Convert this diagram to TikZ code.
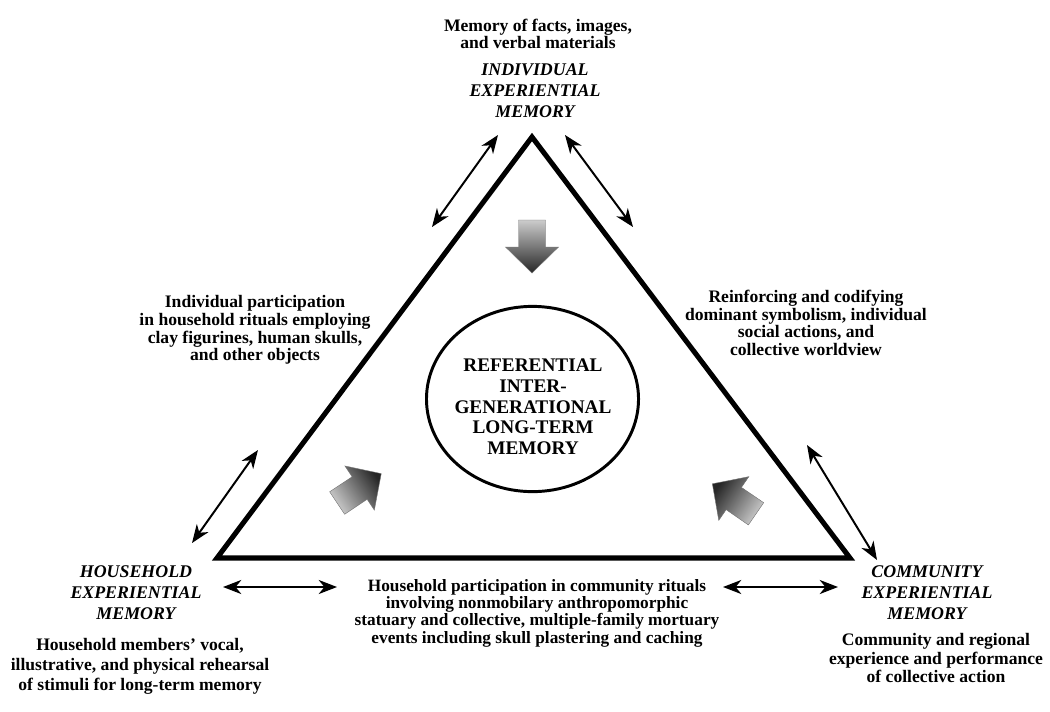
\documentclass[tikz,border=0pt]{standalone}
\usepackage{fontspec}
\setmainfont{Liberation Serif}
\usetikzlibrary{arrows.meta, shapes.geometric}

\begin{document}
\begin{tikzpicture}[x=0.025cm, y=-0.025cm,
		note/.style={font=\bfseries\fontsize{12.5}{12.6}\selectfont, align=center, inner sep=0pt},
		level/.style={font=\bfseries\itshape\fontsize{12.7}{15}\selectfont, align=center, inner sep=0pt},
		link/.style={{Stealth[length=13pt,width=10pt,inset=4pt]}-{Stealth[length=13pt,width=10pt,inset=4pt]}, line width=1.4pt},
		memarrow/.pic={\shade[top color=black!20, bottom color=black!85, shading angle=#1, draw=black!55, line width=0.3pt]
			(-26.5,-13.5) -- (0.5,-13.5) -- (0.5,-26.5) -- (26.5,0) -- (0.5,26.5) -- (0.5,13.5) -- (-26.5,13.5) -- cycle;}]
	\useasboundingbox (0,0) rectangle (1050,711);

	\coordinate (apex) at (532,137);
	\coordinate (hh) at (217,558);
	\coordinate (cc) at (850,558);
	\draw[line width=3.6pt, line join=miter] (apex) -- (hh) -- (cc) -- cycle;

	\node[draw, ellipse, line width=2.1pt, minimum width=5.3cm, minimum height=4.63cm, inner sep=0pt] (core) at (532.5,399) {};
	\node[font=\bfseries\fontsize{13.7}{14.7}\selectfont, align=center, inner sep=0pt] (coretext) at (533,407) {REFERENTIAL\\INTER-\\GENERATIONAL\\LONG-TERM\\MEMORY};

	\pic[rotate=-90] (downarrow) at (532,246.5) {memarrow=0};
	\pic[rotate=33.7] (housearrow) at (359.2,488.3) {memarrow=123.7};
	\pic[rotate=145.5] (commarrow) at (734.2,498.8) {memarrow=235.5};

	\node[note] (facts) at (538,34) {Memory of facts, images,\\and verbal materials};
	\node[level] (indiv) at (535,91) {INDIVIDUAL\\EXPERIENTIAL\\MEMORY};
	\node[note] (indivnote) at (255,330) {Individual participation\\in household rituals employing\\clay figurines, human skulls,\\and other objects};
	\node[note] (symbnote) at (806,323) {Reinforcing and codifying\\dominant symbolism, individual\\social actions, and\\collective worldview};
	\node[level] (house) at (136,593) {HOUSEHOLD\\EXPERIENTIAL\\MEMORY};
	\node[note, font=\bfseries\fontsize{12.5}{14.2}\selectfont] (housenote) at (140,666) {Household members’ vocal,\\illustrative, and physical rehearsal\\of stimuli for long-term memory};
	\node[level] (comm) at (927,593) {COMMUNITY\\EXPERIENTIAL\\MEMORY};
	\node[note, font=\bfseries\fontsize{12.5}{13.2}\selectfont] (commnote) at (936,658) {Community and regional\\experience and performance\\of collective action};
	\node[note, font=\bfseries\fontsize{12.3}{12.3}\selectfont] (ritual) at (537,613) {Household participation in community rituals\\involving nonmobilary anthropomorphic\\statuary and collective, multiple-family mortuary\\events including skull plastering and caching};

	\coordinate (il1) at (432,227);
	\coordinate (il2) at (498,135);
	\coordinate (ir1) at (565,135);
	\coordinate (ir2) at (633,227);
	\coordinate (hl1) at (258,450);
	\coordinate (hl2) at (192,543);
	\coordinate (cr1) at (807,445);
	\coordinate (cr2) at (877,560);
	\coordinate (bl1) at (223,587);
	\coordinate (bl2) at (337,587);
	\coordinate (br1) at (723,587);
	\coordinate (br2) at (838,587);
	\draw[link] (il1) -- (il2);
	\draw[link] (ir1) -- (ir2);
	\draw[link] (hl1) -- (hl2);
	\draw[link] (cr1) -- (cr2);
	\draw[link] (bl1) -- (bl2);
	\draw[link] (br1) -- (br2);
\end{tikzpicture}
\end{document}
